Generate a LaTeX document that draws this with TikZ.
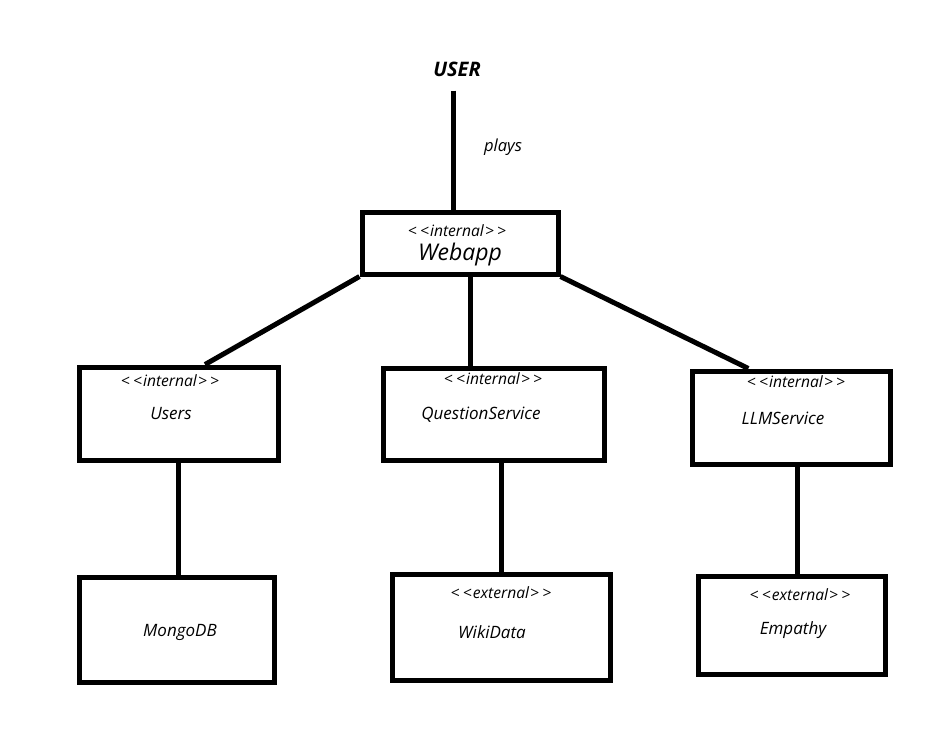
\documentclass[tikz,border=0pt]{standalone}
\usepackage{fontspec}
\setmainfont{Open Sans}
\usetikzlibrary{calc}
\newcommand\stereotype[1]{<\kern1.6pt<\kern.6pt#1\kern.6pt>\kern1.6pt>}
\begin{document}
\begin{tikzpicture}[x=0.5pt,y=-0.5pt,every node/.style={font=\itshape,inner sep=0pt},box/.style={rectangle,draw=black,line width=2.5pt},stereo/.style={font=\itshape\fontsize{7.8}{9}\selectfont},compname/.style={font=\itshape\fontsize{8.5}{10}\selectfont},conn/.style={line width=2.5pt}]
\useasboundingbox (0,0) rectangle (950,741);
\node[box,minimum width=98pt,minimum height=31pt](webapp) at (460,243){};
\node[box,minimum width=99.5pt,minimum height=46.5pt](users) at (178.5,413.5){};
\node[box,minimum width=110.5pt,minimum height=46pt](qs) at (493.5,414){};
\node[box,minimum width=99pt,minimum height=46.5pt](llm) at (791,417.5){};
\node[box,minimum width=97.5pt,minimum height=52.5pt](mongo) at (176.5,629.5){};
\node[box,minimum width=109pt,minimum height=53pt](wiki) at (501,627){};
\node[box,minimum width=93.5pt,minimum height=49pt](empathy) at (791.5,625){};
\node[font=\bfseries\itshape\fontsize{10}{12}\selectfont](user) at (457,69){USER};
\node[font=\itshape\fontsize{8.3}{10}\selectfont](plays) at (503,147){plays};
\node[stereo](webappst) at (457,231){\stereotype{internal}};
\node[font=\itshape\fontsize{11.5}{13}\selectfont](webappname) at (460,255){Webapp};
\node[stereo](usersst) at (170,381){\stereotype{internal}};
\node[compname](usersname) at (171,414){Users};
\node[stereo](qsst) at (493,379){\stereotype{internal}};
\node[compname](qsname) at (481,415){QuestionService};
\node[stereo](llmst) at (796,382){\stereotype{internal}};
\node[compname](llmname) at (783,418){LLMService};
\node[compname](mongoname) at (180,632){MongoDB};
\node[stereo](wikist) at (501,593){\stereotype{external}};
\node[compname](wikiname) at (492,632){WikiData};
\node[stereo](empathyst) at (800,595){\stereotype{external}};
\node[compname](empathyname) at (793,630){Empathy};
\draw[conn]([xshift=-2pt,yshift=-7pt]user.south)--([xshift=-2pt]user.south|-webapp.north);\draw[conn](webapp.south west)--($(users.north west)!0.63!(users.north east)$);\draw[conn]([xshift=5pt]webapp.south)--([xshift=5pt]webapp.south|-qs.north);\draw[conn](webapp.south east)--($(llm.north west)!0.29!(llm.north east)$);\draw[conn](users.south)--(users.south|-mongo.north);\draw[conn](wiki.north|-qs.south)--(wiki.north);\draw[conn]([xshift=3pt]llm.south)--([xshift=3pt]llm.south|-empathy.north);
\end{tikzpicture}
\end{document}
